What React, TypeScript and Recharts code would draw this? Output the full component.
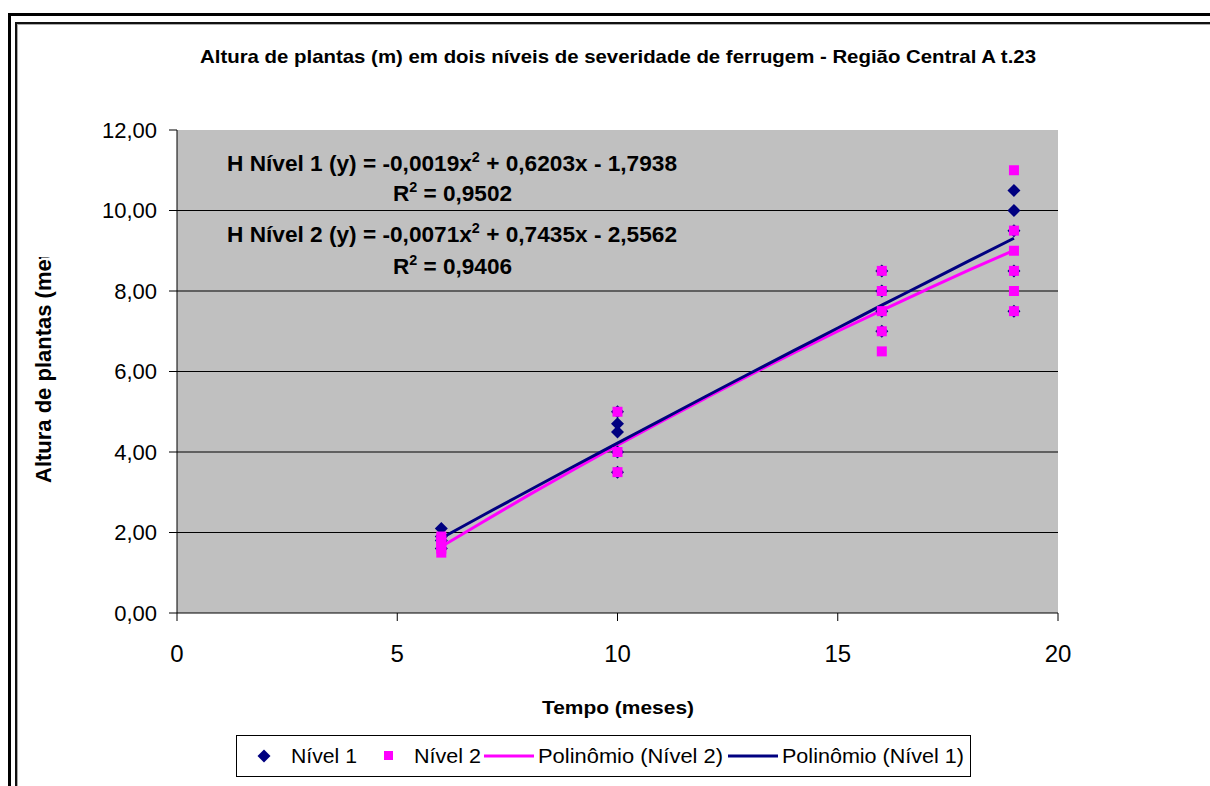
import React from 'react';
import {
  CartesianGrid,
  ComposedChart,
  Line,
  Scatter,
  XAxis,
  YAxis,
} from 'recharts';

// Observed heights (m) per month
const nivel1 = [
  { x: 6, y: 2.1 }, { x: 6, y: 1.9 }, { x: 6, y: 1.8 }, { x: 6, y: 1.6 },
  { x: 10, y: 5.0 }, { x: 10, y: 4.7 }, { x: 10, y: 4.5 }, { x: 10, y: 4.0 }, { x: 10, y: 3.5 },
  { x: 16, y: 8.5 }, { x: 16, y: 8.0 }, { x: 16, y: 7.5 }, { x: 16, y: 7.0 },
  { x: 19, y: 10.5 }, { x: 19, y: 10.0 }, { x: 19, y: 9.5 }, { x: 19, y: 8.5 }, { x: 19, y: 7.5 },
];

const nivel2 = [
  { x: 6, y: 1.9 }, { x: 6, y: 1.8 }, { x: 6, y: 1.7 }, { x: 6, y: 1.6 }, { x: 6, y: 1.5 },
  { x: 10, y: 5.0 }, { x: 10, y: 4.0 }, { x: 10, y: 3.5 },
  { x: 16, y: 8.5 }, { x: 16, y: 8.0 }, { x: 16, y: 7.5 }, { x: 16, y: 7.0 }, { x: 16, y: 6.5 },
  { x: 19, y: 11.0 }, { x: 19, y: 9.5 }, { x: 19, y: 9.0 }, { x: 19, y: 8.5 }, { x: 19, y: 8.0 }, { x: 19, y: 7.5 },
];

// Trend lines
const trend1 = [
  { x: 6, y: 1.86 }, { x: 7, y: 2.46 }, { x: 8, y: 3.05 }, { x: 9, y: 3.64 },
  { x: 10, y: 4.22 }, { x: 11, y: 4.8 }, { x: 12, y: 5.38 }, { x: 13, y: 5.95 },
  { x: 14, y: 6.52 }, { x: 15, y: 7.08 }, { x: 16, y: 7.65 }, { x: 17, y: 8.2 },
  { x: 18, y: 8.76 }, { x: 19, y: 9.31 },
];
const trend2 = [
  { x: 6, y: 1.65 }, { x: 7, y: 2.3 }, { x: 8, y: 2.94 }, { x: 9, y: 3.56 },
  { x: 10, y: 4.17 }, { x: 11, y: 4.76 }, { x: 12, y: 5.34 }, { x: 13, y: 5.91 },
  { x: 14, y: 6.46 }, { x: 15, y: 7.0 }, { x: 16, y: 7.52 }, { x: 17, y: 8.03 },
  { x: 18, y: 8.53 }, { x: 19, y: 9.01 },
];

const xTicks = [0, 5, 10, 15, 20];
const yTicks = [0, 2, 4, 6, 8, 10, 12];
const gridValues = [2, 4, 6, 8, 10];

const NAVY = '#000080';
const PINK = '#FF00FF';
const FONT = '"Liberation Sans", Arial, sans-serif';

const fmtY = (v: number) => v.toFixed(2).replace('.', ',');

function Diamond(props: any) {
  const { cx, cy } = props;
  const r = 6.5;
  return <path d={`M${cx},${cy - r}L${cx + r},${cy}L${cx},${cy + r}L${cx - r},${cy}Z`} fill={NAVY} />;
}

function Square(props: any) {
  const { cx, cy } = props;
  return <rect x={cx - 5} y={cy - 5} width={10} height={10} fill={PINK} />;
}

function Equation({ x, y, label, a, b, c }: { x: number; y: number; label: string; a: string; b: string; c: string }) {
  return (
    <text x={x} y={y} fontSize={22} fontWeight="bold" fontFamily={FONT} textLength={450} lengthAdjust="spacingAndGlyphs">
      <tspan>{`${label} (y) = ${a}x`}</tspan>
      <tspan fontSize={14} dy={-9}>2</tspan>
      <tspan dy={9}>{` + ${b}x - ${c}`}</tspan>
    </text>
  );
}

function RSquared({ y, value }: { y: number; value: string }) {
  return (
    <text x={393} y={y} fontSize={22} fontWeight="bold" fontFamily={FONT} textLength={119} lengthAdjust="spacingAndGlyphs">
      <tspan>R</tspan>
      <tspan fontSize={14} dy={-9}>2</tspan>
      <tspan dy={9}>{` = ${value}`}</tspan>
    </text>
  );
}

function ChartLegend() {
  const ty = 763;
  const txt = (x: number, s: string, len: number) => (
    <text x={x} y={ty} fontSize={20} fontFamily={FONT} textLength={len} lengthAdjust="spacingAndGlyphs">{s}</text>
  );
  return (
    <g>
      <rect x={236.5} y={735.5} width={734} height={41} fill="#fff" stroke="#000" strokeWidth={1} />
      <Diamond cx={264} cy={756} />
      {txt(291, 'Nível 1', 66)}
      <rect x={384} y={751} width={9} height={9} fill={PINK} />
      {txt(414, 'Nível 2', 67)}
      <line x1={484} x2={534} y1={756} y2={756} stroke={PINK} strokeWidth={3} />
      {txt(538, 'Polinômio (Nível 2)', 185)}
      <line x1={728} x2={778} y1={756} y2={756} stroke={NAVY} strokeWidth={3} />
      {txt(782, 'Polinômio (Nível 1)', 182)}
    </g>
  );
}

export default function App() {
  return (
    <div style={{ position: 'absolute', left: 0, top: 0, width: 1210, height: 786, overflow: 'hidden', background: '#fff' }}>
      {/* double frame */}
      <div style={{ position: 'absolute', left: 8, top: 13, width: 1300, height: 900, borderLeft: '3px solid #000', borderTop: '3px solid #000' }} />
      <div style={{ position: 'absolute', left: 15, top: 22, width: 1300, height: 900, borderLeft: '2px solid #111', borderTop: '2px solid #111', boxShadow: 'inset 1px 1px 0 #aaa' }} />

      <div style={{ position: 'absolute', left: 0, top: 0 }}>
        <ComposedChart width={1210} height={786} margin={{ top: 130, right: 152, bottom: 113, left: 77 }}>
          <CartesianGrid
            vertical={false}
            horizontalValues={gridValues}
            stroke="#000"
            strokeWidth={1}
            fill="#C0C0C0"
            fillOpacity={1}
          />
          <XAxis
            type="number"
            dataKey="x"
            domain={[0, 20]}
            ticks={xTicks}
            allowDataOverflow
            height={60}
            tickSize={8}
            tickMargin={24}
            axisLine={{ stroke: '#000' }}
            tickLine={{ stroke: '#000' }}
            tick={{ fill: '#000', fontSize: 24, fontFamily: FONT }}
          />
          <YAxis
            type="number"
            dataKey="y"
            domain={[0, 12]}
            ticks={yTicks}
            allowDataOverflow
            width={100}
            tickSize={8}
            tickMargin={12}
            tickFormatter={fmtY}
            axisLine={{ stroke: '#000' }}
            tickLine={{ stroke: '#000' }}
            tick={{ fill: '#000', fontSize: 22, fontFamily: FONT }}
          />
          <Scatter name="Nível 1" data={nivel1} dataKey="y" shape={Diamond} isAnimationActive={false} />
          <Scatter name="Nível 2" data={nivel2} dataKey="y" shape={Square} isAnimationActive={false} />
          <Line name="Polinômio (Nível 2)" data={trend2} dataKey="y" type="monotone" stroke={PINK} strokeWidth={3} dot={false} activeDot={false} isAnimationActive={false} />
          <Line name="Polinômio (Nível 1)" data={trend1} dataKey="y" type="monotone" stroke={NAVY} strokeWidth={3} dot={false} activeDot={false} isAnimationActive={false} />
        </ComposedChart>
      </div>

      <svg width={1210} height={786} style={{ position: 'absolute', left: 0, top: 0, pointerEvents: 'none' }}>
        <defs>
          <clipPath id="ytitleClip">
            <rect x={0} y={257} width={100} height={300} />
          </clipPath>
        </defs>
        <text x={200} y={63} fontSize={19} fontWeight="bold" fontFamily={FONT} textLength={836} lengthAdjust="spacingAndGlyphs">
          Altura de plantas (m) em dois níveis de severidade de ferrugem - Região Central A t.23
        </text>
        <Equation x={227} y={171} label="H Nível 1" a="-0,0019" b="0,6203" c="1,7938" />
        <RSquared y={201} value="0,9502" />
        <Equation x={227} y={242} label="H Nível 2" a="-0,0071" b="0,7435" c="2,5562" />
        <RSquared y={274} value="0,9406" />
        <text x={618} y={714} textAnchor="middle" fontSize={19} fontWeight="bold" fontFamily={FONT} textLength={152} lengthAdjust="spacingAndGlyphs">
          Tempo (meses)
        </text>
        <g clipPath="url(#ytitleClip)">
          <text x={0} y={0} transform="translate(51,483) rotate(-90)" fontSize={22} fontWeight="bold" fontFamily={FONT}>
            Altura de plantas (metros)
          </text>
        </g>
        <ChartLegend />
      </svg>
    </div>
  );
}
